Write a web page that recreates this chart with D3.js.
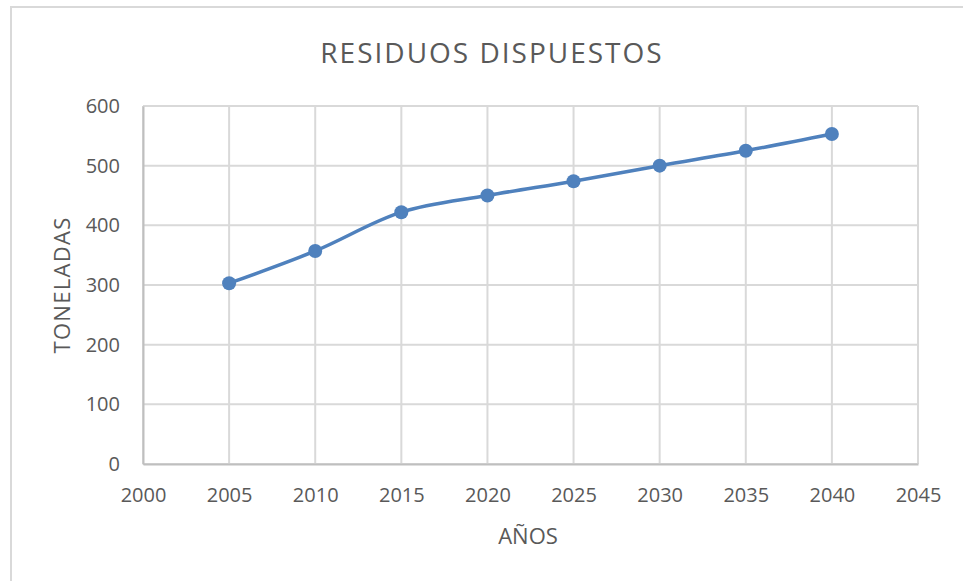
<!DOCTYPE html>
<html>
<head>
<meta charset="utf-8">
<script src="https://cdn.jsdelivr.net/npm/d3@7"></script>
<style>
  body { margin: 0; background: #fff; }
  text { font-family: "Open Sans", sans-serif; fill: #595959; }
</style>
</head>
<body>
<div id="canvas"></div>
<script>
// data
const years = [2005, 2010, 2015, 2020, 2025, 2030, 2035, 2040];
const tons = [303, 357, 422, 450, 474, 500, 525, 553];
const xTicks = [2000, 2005, 2010, 2015, 2020, 2025, 2030, 2035, 2040, 2045];
const yTicks = [0, 100, 200, 300, 400, 500, 600];

const W = 963, H = 581;
const margin = { top: 106, right: 45, bottom: 117, left: 143 },
    width = W - margin.left - margin.right,
    height = H - margin.top - margin.bottom;

const root = d3.select("#canvas")
    .append("svg")
    .attr("width", W)
    .attr("height", H);

// outer chart border (only top and left show in the picture)
root.append("path")
    .attr("d", "M11," + H + " V7 H" + W)
    .attr("fill", "none")
    .attr("stroke", "#d9d9d9")
    .attr("stroke-width", 2);

root.append("text")
    .attr("x", 492)
    .attr("y", 63)
    .attr("text-anchor", "middle")
    .style("font-size", "28px")
    .style("letter-spacing", "2px")
    .text("RESIDUOS DISPUESTOS");

const svg = root.append("g")
    .attr("transform", `translate(${margin.left},${margin.top})`);

const x = d3.scaleLinear().domain([2000, 2045]).range([0, width]);
const y = d3.scaleLinear().domain([0, 600]).range([height, 0]);

// gridlines
svg.append("g")
    .selectAll("line")
    .data(yTicks)
    .enter()
    .append("line")
    .attr("x1", 0).attr("x2", width)
    .attr("y1", d => y(d)).attr("y2", d => y(d))
    .attr("stroke", "#d9d9d9")
    .attr("stroke-width", 2);

svg.append("g")
    .selectAll("line")
    .data(xTicks)
    .enter()
    .append("line")
    .attr("x1", d => x(d)).attr("x2", d => x(d))
    .attr("y1", 0).attr("y2", height)
    .attr("stroke", "#d9d9d9")
    .attr("stroke-width", 2);

// axes
const xAxis = svg.append("g")
    .attr("transform", "translate(0," + height + ")")
    .call(d3.axisBottom(x).tickValues(xTicks).tickFormat(d3.format("d")).tickSize(0).tickPadding(24));
const yAxis = svg.append("g")
    .call(d3.axisLeft(y).tickValues(yTicks).tickSize(0).tickPadding(23));

[xAxis, yAxis].forEach(a => {
    a.select(".domain").attr("stroke", "#bfbfbf").attr("stroke-width", 2);
    a.selectAll("text").style("font-size", "20px").attr("fill", "#595959")
        .style("font-family", "'Open Sans', sans-serif");
});

// axis titles
root.append("text")
    .attr("transform", "translate(70,285) rotate(-90)")
    .attr("text-anchor", "middle")
    .style("font-size", "22px")
    .style("letter-spacing", "1.3px")
    .text("TONELADAS");

root.append("text")
    .attr("x", 528)
    .attr("y", 544)
    .attr("text-anchor", "middle")
    .style("font-size", "22px")
    .text("AÑOS");

// series
const pts = years.map((d, i) => ({ year: d, val: tons[i] }));

svg.append("path")
    .datum(pts)
    .attr("fill", "none")
    .attr("stroke", "#4f81bd")
    .attr("stroke-width", 3.5)
    .attr("stroke-linecap", "round")
    .attr("d", d3.line()
        .x(d => x(d.year))
        .y(d => y(d.val))
        .curve(d3.curveCatmullRom.alpha(0.5)));

svg.append("g")
    .selectAll("circle")
    .data(pts)
    .enter()
    .append("circle")
    .attr("cx", d => x(d.year))
    .attr("cy", d => y(d.val))
    .attr("r", 7)
    .attr("fill", "#4f81bd");
</script>
</body>
</html>
